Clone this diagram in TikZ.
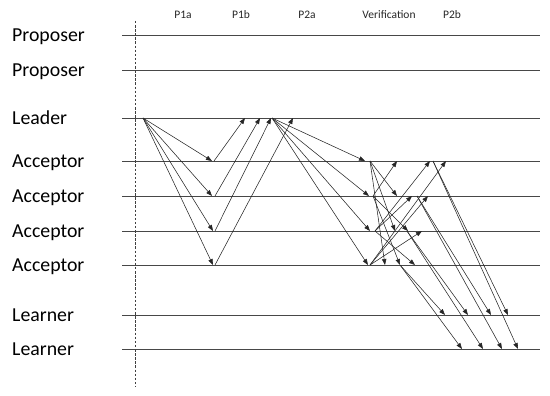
\documentclass[tikz,border=0pt]{standalone}
\usepackage{fontspec}
\setmainfont{Carlito}
\usetikzlibrary{arrows.meta}
\begin{document}
\begin{tikzpicture}[x=1pt,y=-1pt,
  lane/.style={draw=black!72, line width=0.85pt},
  msg/.style={draw=black!85, line width=0.55pt, -{Triangle[length=6pt,width=4.4pt]}},
  role/.style={anchor=base west, font=\fontsize{19.8}{21}\selectfont, inner sep=0pt},
  phase/.style={anchor=base, font=\fontsize{11.5}{12}\selectfont, inner sep=0pt, text=black!85},
  divider/.style={draw=black!75, line width=0.6pt, dash pattern=on 2.5pt off 1.6pt}]
\useasboundingbox (0,0) rectangle (550,396);

% lanes and role labels
\foreach \n/\y/\t in {p1/35/Proposer, p2/70/Proposer, ld/118/Leader,
  a1/161/Acceptor, a2/196/Acceptor, a3/231/Acceptor, a4/265/Acceptor,
  l1/315/Learner, l2/349/Learner}{
  \node[role] (lbl-\n) at (12,\y+6.5) {\t};
  \coordinate (\n-s) at (122,\y);
  \coordinate (\n-e) at (540,\y);
  \draw[lane] (\n-s) -- (\n-e);
}

% phase labels
\node[phase] (ph1) at (183,18.5) {P1a};
\node[phase] (ph2) at (241,18.5) {P1b};
\node[phase] (ph3) at (307,18.5) {P2a};
\node[phase] (ph4) at (389,18.5) {Verification};
\node[phase] (ph5) at (452,18.5) {P2b};

% dashed divider
\coordinate (dtop) at (135,21);
\coordinate (dbot) at (135,386);
\draw[divider] (dtop) -- (dbot);

% P1a
\coordinate (L0) at (143,118);
\coordinate (q1) at (212,161);
\coordinate (q2) at (212,196);
\coordinate (q3) at (213,231);
\coordinate (q4) at (213,265);
\foreach \t in {q1,q2,q3,q4} \draw[msg] (L0) -- (\t);

% P1b
\coordinate (r1) at (214,161);
\coordinate (r2) at (215,196);
\coordinate (r3) at (215,231);
\coordinate (r4) at (215,265);
\coordinate (m1) at (245,118);
\coordinate (m2) at (260,118);
\coordinate (m3) at (271,118);
\coordinate (m4) at (293,118);
\draw[msg] (r1) -- (m1);
\draw[msg] (r2) -- (m2);
\draw[msg] (r3) -- (m3);
\draw[msg] (r4) -- (m4);

% P2a
\coordinate (L1) at (272,118);
\coordinate (s1) at (365,161);
\coordinate (s2) at (369,196);
\coordinate (s3) at (370,231);
\coordinate (s4) at (368,265);
\foreach \t in {s1,s2,s3,s4} \draw[msg] (L1) -- (\t);

% Verification
\coordinate (v1) at (370,161);
\coordinate (v2) at (373,196);
\coordinate (v3) at (375,231);
\coordinate (v4) at (370,265);
\coordinate (t12) at (397,196);
\coordinate (t13) at (395,231);
\coordinate (t14) at (385,265);
\coordinate (t21) at (397,161);
\coordinate (t23) at (408,231);
\coordinate (t24) at (400,265);
\coordinate (t31) at (430,161);
\coordinate (t32) at (412,196);
\coordinate (t34) at (415,265);
\coordinate (t41) at (446,161);
\coordinate (t42) at (428,196);
\coordinate (t43) at (422,231);
\draw[msg] (v1) -- (t12);
\draw[msg] (v1) -- (t13);
\draw[msg] (v1) -- (t14);
\draw[msg] (v2) -- (t21);
\draw[msg] (v2) -- (t23);
\draw[msg] (v2) -- (t24);
\draw[msg] (v3) -- (t31);
\draw[msg] (v3) -- (t32);
\draw[msg] (v3) -- (t34);
\draw[msg] (v4) -- (t41);
\draw[msg] (v4) -- (t42);
\draw[msg] (v4) -- (t43);

% P2b
\coordinate (w1) at (433,161);
\coordinate (w2) at (417,196);
\coordinate (w3) at (407,231);
\coordinate (w4) at (400,265);
\coordinate (u11) at (508,315);
\coordinate (u12) at (518,349);
\coordinate (u21) at (491,315);
\coordinate (u22) at (502,349);
\coordinate (u31) at (468,315);
\coordinate (u32) at (483,349);
\coordinate (u41) at (445,315);
\coordinate (u42) at (462,349);
\draw[msg] (w1) -- (u11);
\draw[msg] (w1) -- (u12);
\draw[msg] (w2) -- (u21);
\draw[msg] (w2) -- (u22);
\draw[msg] (w3) -- (u31);
\draw[msg] (w3) -- (u32);
\draw[msg] (w4) -- (u41);
\draw[msg] (w4) -- (u42);
\end{tikzpicture}
\end{document}
